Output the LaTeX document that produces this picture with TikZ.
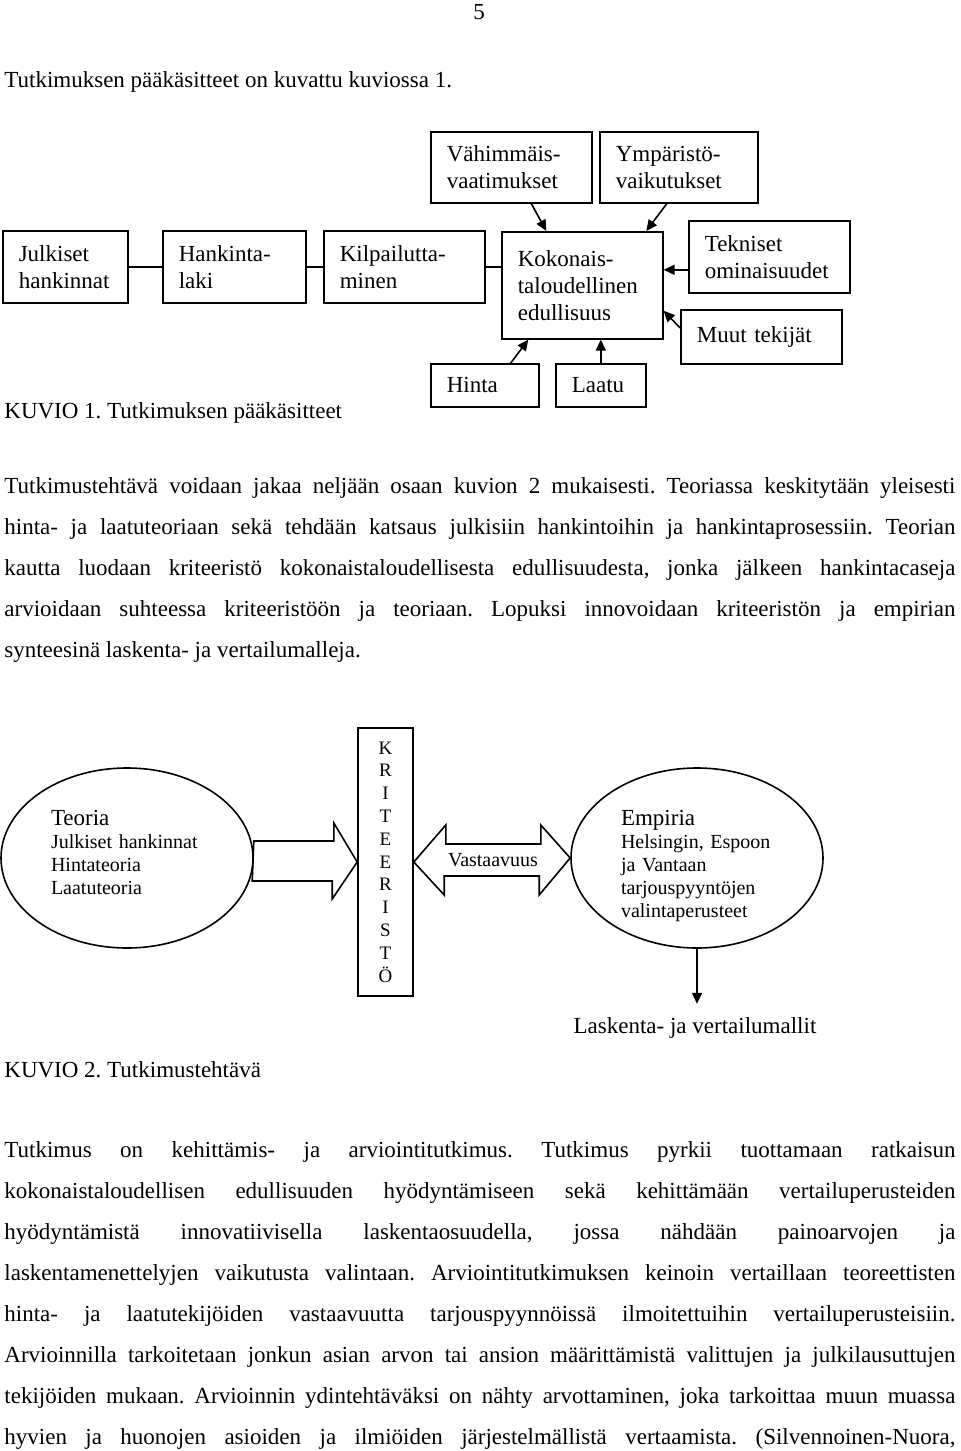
\documentclass[tikz,border=0pt]{standalone}
\usepackage{fontspec}
\setmainfont{Liberation Serif}
\usetikzlibrary{shapes.geometric,arrows.meta}
\frenchspacing

\begin{document}
\begin{tikzpicture}[x=0.5pt,y=-0.5pt,
    every node/.style={inner sep=0pt},
    teksti/.style={font=\fontsize{11.5}{20.5}\selectfont},
    laatikko/.style={draw,line width=0.8pt,anchor=north west,inner xsep=8pt,align=left,
      font=\fontsize{11.5}{13.5}\selectfont},
    soikio/.style={draw,ellipse,line width=0.8pt,minimum width=126pt,minimum height=90pt,
      text width=76pt,align=left,font=\fontsize{10}{11.5}\selectfont},
    nuoli/.style={line width=0.8pt,-{Triangle[length=5.5pt,width=5pt]}},
    leveanuoli/.style={draw,line width=0.8pt}]
  \path[use as bounding box,fill=white] (0,0) rectangle (960,1451);

  \node[teksti,anchor=base] (sivu) at (479,19) {5};
  \node[teksti,anchor=base west] (johdanto) at (4,87) {Tutkimuksen pääkäsitteet on kuvattu kuviossa 1.};

  % kuvio 1
  \node[laatikko,minimum height=36pt,text width=46.5pt] (julkiset) at (2,230) {Julkiset\\hankinnat};
  \node[laatikko,minimum height=36pt,text width=55.5pt] (hankintalaki) at (162,230) {Hankinta-\\laki};
  \node[laatikko,minimum height=36pt,text width=64.5pt] (kilpailutus) at (323,230) {Kilpailutta-\\minen};
  \node[laatikko,minimum height=53.5pt,text width=64.5pt] (kokonais) at (501,231) {Kokonais-\\taloudellinen\\edullisuus};
  \node[laatikko,minimum height=35.5pt,text width=64.5pt] (vahimmais) at (430,131) {Vähimmäis-\\vaatimukset};
  \node[laatikko,minimum height=35.5pt,text width=63pt] (ymparisto) at (599,131) {Ympäristö-\\vaikutukset};
  \node[laatikko,minimum height=36pt,text width=64.5pt] (tekniset) at (688,220) {Tekniset\\ominaisuudet};
  \node[laatikko,minimum height=27pt,text width=64.5pt] (muut) at (680,309) {Muut tekijät};
  \node[laatikko,minimum height=21.5pt,text width=38pt] (hinta) at (430,363) {Hinta};
  \node[laatikko,minimum height=21.5pt,text width=29pt] (laatu) at (555,363) {Laatu};

  \draw[line width=0.8pt] (julkiset) -- (hankintalaki);
  \draw[line width=0.8pt] (hankintalaki) -- (kilpailutus);
  \draw[line width=0.8pt] (kilpailutus.east) -- (kilpailutus.east -| kokonais.west);
  \draw[nuoli] ([xshift=10pt]vahimmais.south) -- ([xshift=-18pt]kokonais.north);
  \draw[nuoli] ([xshift=-6pt]ymparisto.south) -- ([xshift=32pt]kokonais.north);
  \draw[nuoli] ([yshift=-6.5pt]tekniset.west) -- ([yshift=-6.5pt]tekniset.west -| kokonais.east);
  \draw[nuoli] ([yshift=4.5pt]muut.west) -- ([yshift=-12.75pt]kokonais.east);
  \draw[nuoli] ([xshift=13pt]hinta.north) -- ([xshift=-27pt]kokonais.south);
  \draw[nuoli] (laatu.north) -- (laatu.north |- kokonais.south);

  \node[teksti,anchor=base west] (kuvio1) at (4,418) {KUVIO 1. Tutkimuksen pääkäsitteet};

  \node[teksti,anchor=base west,text width=475.5pt,align=justify] (kappale1) at (4,493)
    {Tutkimustehtävä voidaan jakaa neljään osaan kuvion 2 mukaisesti. Teoriassa keskitytään yleisesti\linebreak
     hinta- ja laatuteoriaan sekä tehdään katsaus julkisiin hankintoihin ja hankintaprosessiin. Teorian\linebreak
     kautta luodaan kriteeristö kokonaistaloudellisesta edullisuudesta, jonka jälkeen hankintacaseja\linebreak
     arvioidaan suhteessa kriteeristöön ja teoriaan. Lopuksi innovoidaan kriteeristön ja empirian\linebreak
     synteesinä laskenta- ja vertailumalleja.};

  % kuvio 2
  \node[soikio] (teoria) at (127,858)
    {{\fontsize{11.5}{13}\selectfont Teoria}\\Julkiset hankinnat\\Hintateoria\\Laatuteoria\rule[-6pt]{0pt}{6pt}};
  \node[draw,line width=0.8pt,minimum width=27.5pt,minimum height=134pt,align=center,
    font=\fontsize{9.5}{11.4}\selectfont] (kriteeristo) at (385.5,862)
    {K\\R\\I\\T\\E\\E\\R\\I\\S\\T\\Ö};
  \node[soikio] (empiria) at (697,858)
    {{\fontsize{11.5}{13}\selectfont\rule{0pt}{15.5pt}Empiria}\\Helsingin, Espoon\\ja Vantaan\\tarjouspyyntöjen\\valintaperusteet};
  \node[font=\fontsize{10}{12}\selectfont] (vastaavuus) at (493,860) {Vastaavuus};

  \draw[leveanuoli] (teoria.east) ++(0,-17) -- ++(80,0) -- ++(0,-18) -- (kriteeristo.west)
    -- ++(-25,37) -- ++(0,-18) -- ++(-80,0) -- cycle;
  \draw[leveanuoli] (kriteeristo.east) -- ++(32,-37) -- ++(0,19) -- ++(95,0) -- ++(0,-19)
    -- (empiria.west) -- ++(-31,37) -- ++(0,-19) -- ++(-95,0) -- ++(0,19) -- cycle;

  \draw[nuoli] (empiria.south) -- ++(0,55);
  \node[teksti,anchor=base] (mallit) at (695,1033) {Laskenta- ja vertailumallit};
  \node[teksti,anchor=base west] (kuvio2) at (4,1077) {KUVIO 2. Tutkimustehtävä};

  \node[teksti,anchor=base west,text width=475.5pt,align=justify] (kappale2) at (4,1157)
    {Tutkimus on kehittämis- ja arviointitutkimus. Tutkimus pyrkii tuottamaan ratkaisun\linebreak
     kokonaistaloudellisen edullisuuden hyödyntämiseen sekä kehittämään vertailuperusteiden\linebreak
     hyödyntämistä innovatiivisella laskentaosuudella, jossa nähdään painoarvojen ja\linebreak
     laskentamenettelyjen vaikutusta valintaan. Arviointitutkimuksen keinoin vertaillaan teoreettisten\linebreak
     hinta- ja laatutekijöiden vastaavuutta tarjouspyynnöissä ilmoitettuihin vertailuperusteisiin.\linebreak
     Arvioinnilla tarkoitetaan jonkun asian arvon tai ansion määrittämistä valittujen ja julkilausuttujen\linebreak
     tekijöiden mukaan. Arvioinnin ydintehtäväksi on nähty arvottaminen, joka tarkoittaa muun muassa\linebreak
     hyvien ja huonojen asioiden ja ilmiöiden järjestelmällistä vertaamista. (Silvennoinen-Nuora,\linebreak};
\end{tikzpicture}
\end{document}
